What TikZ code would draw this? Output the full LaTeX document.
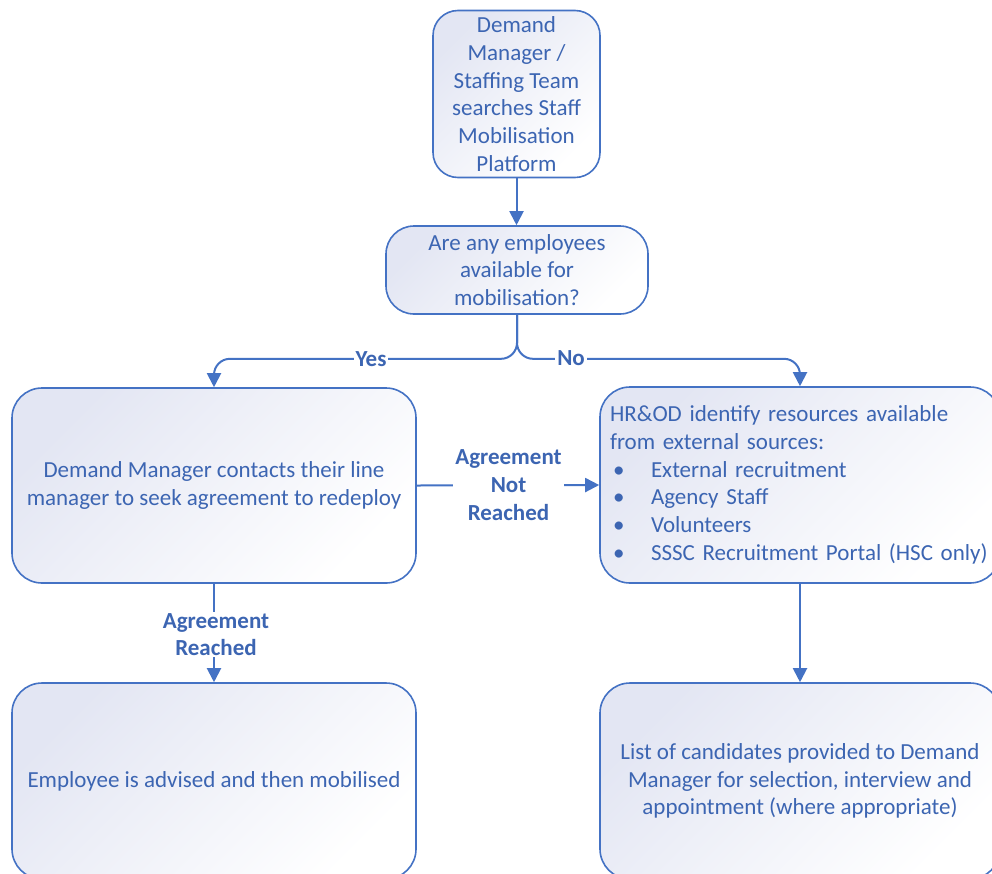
\documentclass[tikz,border=0pt]{standalone}
\usepackage{fontspec}
\setmainfont{Carlito}
\usetikzlibrary{arrows.meta}
\definecolor{lineblue}{HTML}{4472C4}
\definecolor{textblue}{HTML}{3C65B2}
\definecolor{gradA}{HTML}{E3E6F3}
\newcommand\bul{\makebox[41pt][l]{\hspace{3pt}•}}
\begin{document}
\begin{tikzpicture}[x=1pt,y=-1pt,
  box/.style={draw=lineblue, line width=1.6pt, rounded corners=28pt,
    top color=gradA, bottom color=white, shading angle=45,
    text=textblue, font=\fontsize{23}{27.7}\selectfont, align=center, inner sep=0pt},
  conn/.style={draw=lineblue, line width=2pt},
  arr/.style={conn, -{Triangle[length=14pt,width=14pt]}},
  lbl/.style={fill=white, text=textblue, font=\fontsize{23}{27.7}\selectfont\bfseries, align=center, inner xsep=2pt, inner ysep=1pt}
]
\useasboundingbox (0,0) rectangle (992,873);

\node[box, minimum width=167pt, minimum height=167pt, rounded corners=25pt] (top) at (516.5,94)
  {Demand\\Manager /\\Staffing Team\\searches Staff\\Mobilisation\\Platform};
\node[box, minimum width=262pt, minimum height=88pt] (dec) at (517,270)
  {Are any employees\\available for\\mobilisation?};
\node[box, minimum width=404pt, minimum height=195pt, rounded corners=30pt] (left) at (214,485.5)
  {Demand Manager contacts their line\\manager to seek agreement to redeploy};
\node[box, minimum width=400pt, minimum height=196pt, rounded corners=30pt, text width=380pt, align=left] (right) at (800,485)
  {HR\&OD identify resources available\\from external sources:\\\bul External recruitment\\\bul Agency Staff\\\bul Volunteers\\\bul SSSC Recruitment Portal (HSC only)};
\node[box, minimum width=404pt, minimum height=196pt, rounded corners=30pt] (bl) at (214,781)
  {Employee is advised and then mobilised};
\node[box, minimum width=400pt, minimum height=196pt, rounded corners=30pt] (br) at (800,781)
  {List of candidates provided to Demand\\Manager for selection, interview and\\appointment (where appropriate)};

\draw[arr] (top.south) -- (top.south |- dec.north);
\draw[arr, rounded corners=16pt] (dec.south) -- ++(0,44) -| (left.north);
\draw[arr, rounded corners=16pt] (dec.south) -- ++(0,44) -| (right.north);
\draw[arr] (left.east) -- (right.west);
\draw[arr] (left.south) -- (bl.north);
\draw[arr] (right.south) -- (br.north);

\node[lbl] (yes) at (371,359) {Yes};
\node[lbl] (no) at (571,358) {No};
\node[lbl] (anr) at (508.5,485) {Agreement\\Not\\Reached};
\node[lbl] (ar) at (216,634.5) {Agreement\\Reached};
\end{tikzpicture}
\end{document}
